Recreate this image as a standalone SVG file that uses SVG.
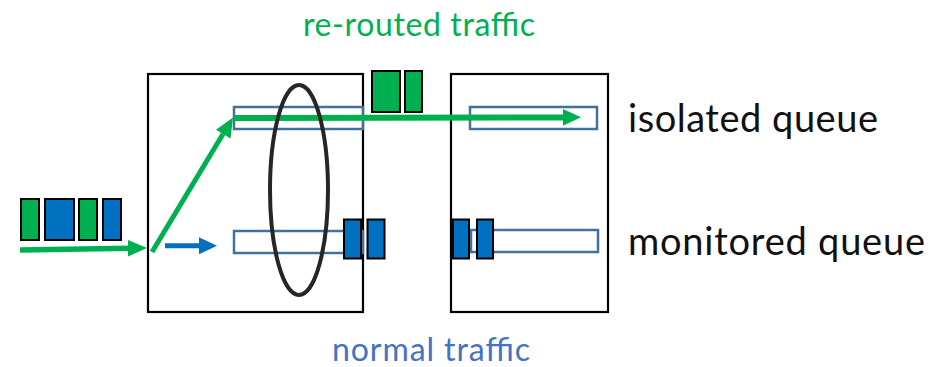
<svg xmlns="http://www.w3.org/2000/svg" width="937" height="367" viewBox="0 0 937 367">
<defs>
<style>
.box{fill:none;stroke:#000;stroke-width:2.2}
.q{fill:none;stroke:#41719C;stroke-width:2.5}
.pg{fill:#00B050;stroke:#000;stroke-width:2}
.pb{fill:#0070C0;stroke:#000;stroke-width:2}
.lbl{font-family:Lato,"Open Sans",sans-serif;font-size:38px;fill:#111}
</style>
</defs>
<rect width="937" height="367" fill="#fff"/>
<g id="switch1"><rect class="box" x="148" y="74" width="215" height="238"/></g>
<g id="switch2"><rect class="box" x="451" y="74" width="157" height="238"/></g>
<g id="queues">
<rect class="q" x="234" y="107" width="129" height="22"/>
<rect class="q" x="234" y="231" width="129" height="22"/>
<rect class="q" x="470" y="107" width="127" height="22"/>
<rect class="q" x="471" y="230" width="127" height="22"/>
</g>
<g id="connectors">
<line x1="20" y1="250" x2="130" y2="248.3" stroke="#00B050" stroke-width="5.5"/>
<polygon points="128,240 147,248 128,256.5" fill="#00B050"/>
<line x1="152" y1="252" x2="223" y2="134" stroke="#00B050" stroke-width="5"/>
<polygon points="233,117.5 230.5,138.5 216,129.8" fill="#00B050"/>
<line x1="234" y1="118" x2="565" y2="117.5" stroke="#00B050" stroke-width="6"/>
<polygon points="563,109 581,117.3 563,125.7" fill="#00B050"/>
<line x1="165" y1="245.7" x2="201" y2="245.7" stroke="#0070C0" stroke-width="5"/>
<polygon points="199,237.2 217,245.7 199,254.2" fill="#0070C0"/>
</g>
<g id="ellipse"><ellipse cx="299" cy="190" rx="29" ry="105" fill="none" stroke="#262626" stroke-width="4"/></g>
<g id="packets-in">
<rect class="pg" x="21" y="199" width="18" height="41"/>
<rect class="pb" x="45" y="199" width="29" height="41"/>
<rect class="pg" x="79" y="199" width="18" height="41"/>
<rect class="pb" x="103" y="199" width="18" height="41"/>
</g>
<g id="packets-rerouted">
<rect class="pg" x="372" y="71" width="28" height="41"/>
<rect class="pg" x="405" y="71" width="17" height="41"/>
</g>
<g id="packets-normal">
<rect class="pb" x="344" y="219.5" width="17" height="39"/>
<rect class="pb" x="367.5" y="219.5" width="17" height="39"/>
<rect class="pb" x="453" y="219.5" width="16" height="39"/>
<rect class="pb" x="477" y="219.5" width="16" height="39"/>
</g>
<g id="labels">
<text x="303" y="36" textLength="232" style="font-family:Lato,'Open Sans',sans-serif;font-size:32px;fill:#00B050">re-routed traffic</text>
<text class="lbl" x="628" y="131.5" textLength="250">isolated queue</text>
<text class="lbl" x="628" y="255" textLength="297">monitored queue</text>
<text x="332" y="360.5" textLength="198" style="font-family:Lato,'Open Sans',sans-serif;font-size:32px;fill:#4472C4">normal traffic</text>
</g>
</svg>
